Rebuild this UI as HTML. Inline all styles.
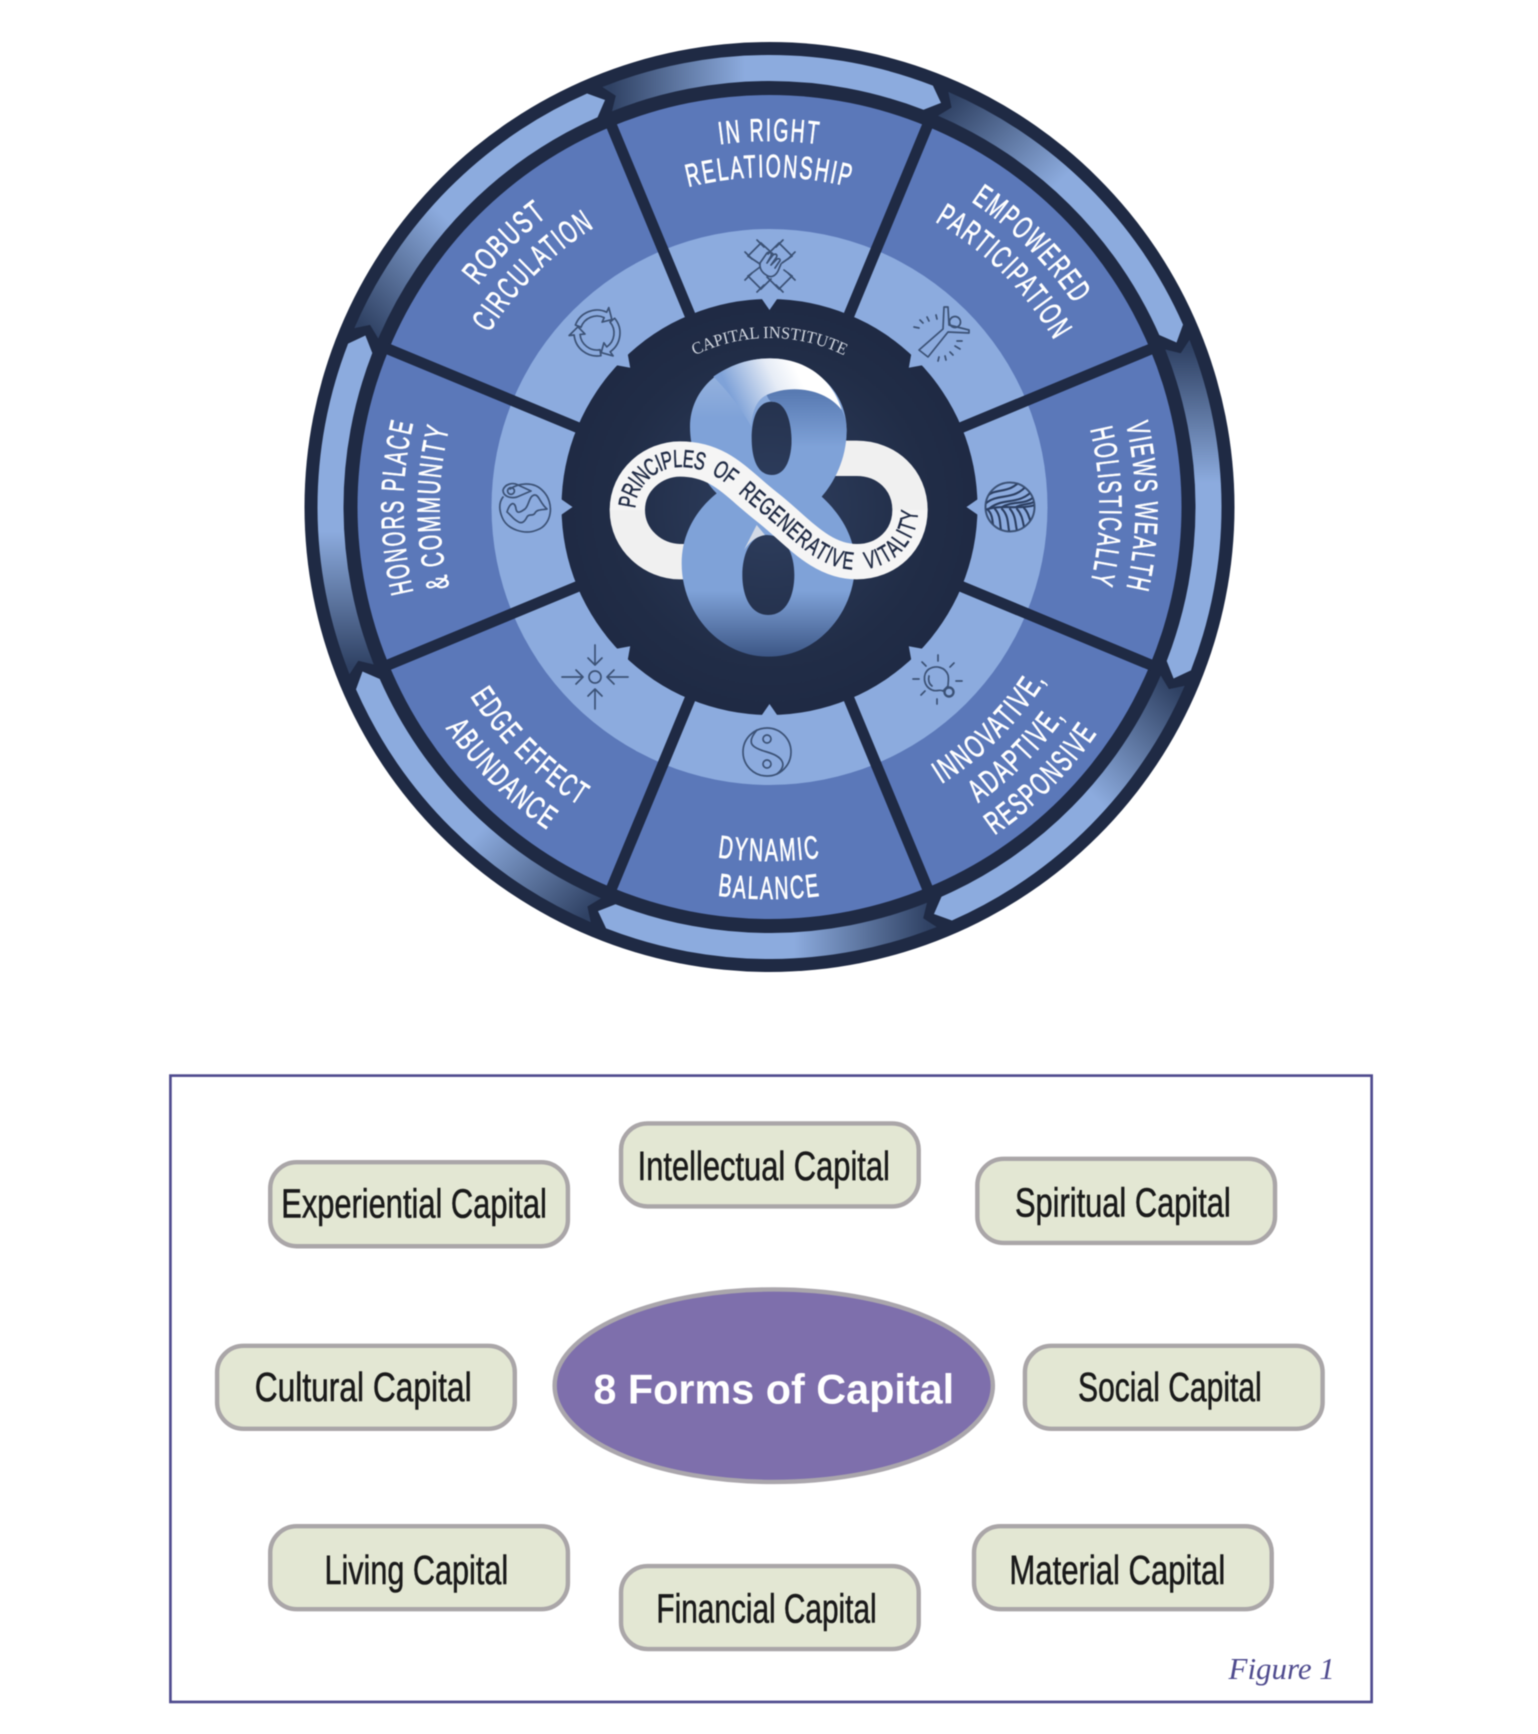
<!DOCTYPE html>
<html><head><meta charset="utf-8"><style>
html,body{margin:0;padding:0;background:#fff;width:1538px;height:1734px;overflow:hidden}
svg{display:block;filter:blur(.5px)}
.l{font-family:"Liberation Sans Narrow","Liberation Sans",sans-serif;font-size:32px;letter-spacing:3px;fill:#fff;stroke:#fff;stroke-width:.7;text-anchor:middle}
.p{font-family:"Liberation Sans",sans-serif;font-size:37px;fill:#1a1a1a;stroke:#1a1a1a;stroke-width:.5;text-anchor:start}
.ic{fill:none;stroke:#3c5276;stroke-width:1.7;stroke-linecap:round;stroke-linejoin:round}
</style></head><body>
<svg width="1538" height="1734" viewBox="0 0 1538 1734" xmlns="http://www.w3.org/2000/svg">
<defs>
<linearGradient id="arr" gradientUnits="userSpaceOnUse" x1="610" y1="0" x2="745" y2="0"><stop offset="0" stop-color="#2f4163"/><stop offset="1" stop-color="#8cabde"/></linearGradient>
<radialGradient id="ctr" gradientUnits="userSpaceOnUse" cx="769.5" cy="507" r="208"><stop offset="0" stop-color="#2f3f5f"/><stop offset=".75" stop-color="#212d47"/><stop offset="1" stop-color="#1f2a44"/></radialGradient>
<linearGradient id="eight" gradientUnits="userSpaceOnUse" x1="0" y1="235" x2="0" y2="1130"><stop offset="0" stop-color="#9db8e0"/><stop offset=".2" stop-color="#7fa2d8"/><stop offset=".78" stop-color="#7fa2d8"/><stop offset="1" stop-color="#3c5685"/></linearGradient>
<linearGradient id="shine" gradientUnits="userSpaceOnUse" x1="570" y1="340" x2="760" y2="250"><stop offset="0" stop-color="#7fa2d8"/><stop offset=".65" stop-color="#e6ecf6"/><stop offset="1" stop-color="#ffffff"/></linearGradient>
<linearGradient id="fold" gradientUnits="userSpaceOnUse" x1="0" y1="335" x2="0" y2="500"><stop offset="0" stop-color="#587ab2"/><stop offset="1" stop-color="#7fa2d8"/></linearGradient>
<path id="o363" d="M534.2 226.6A366 366 0 0 1 1004.8 226.6"/>
<path id="o323" d="M557.4 254.2A330 330 0 0 1 981.6 254.2"/>
<path id="i326" d="M559.9 756.7A326 326 0 0 0 979.1 756.7"/>
<path id="i362" d="M536.8 784.3A362 362 0 0 0 1002.2 784.3"/>
<path id="i398" d="M513.7 811.9A398 398 0 0 0 1025.3 811.9"/>
<path id="i354" d="M541.9 778.2A354 354 0 0 0 997.1 778.2"/>
<path id="i392" d="M517.5 807.3A392 392 0 0 0 1021.5 807.3"/>
<path id="capi" d="M660.9 377.5A169 169 0 0 1 878.1 377.5"/>
<path id="front" d="M262 690C262 600 340 537 420 537C540 537 590 610 680 680C770 750 840 845 950 845C1040 845 1110 780 1110 690"/>
<clipPath id="gc"><circle cx="1010" cy="507" r="24"/></clipPath>
<path id="arrow" d="M602.4 87A452 452 0 0 1 932.9 85.6L941 102.9L923.5 109.8A426 426 0 0 0 612 111.2L615.8 95.8Z" fill="url(#arr)"/>
<polygon id="notch" points="760.5,297 778.5,297 769.5,310" fill="#8cabde"/>
<line id="div" x1="769.5" y1="320" x2="769.5" y2="92" stroke="#1f2a44" stroke-width="11" transform="rotate(22.5 769.5 507)"/>
<path id="rec" d="M-21.6 -7.9A23 23 0 0 1 9.7 -20.8L11.8 -25.4L14.9 -13.4L5.1 -10.9L7.2 -15.4A17 17 0 0 0 -16 -5.8Z"/>
</defs>
<rect width="1538" height="1734" fill="#fff"/>

<!-- wheel -->
<circle cx="769.5" cy="507" r="465" fill="#1f2a44"/>
<use href="#arrow"/>
<use href="#arrow" transform="rotate(45 769.5 507)"/>
<use href="#arrow" transform="rotate(90 769.5 507)"/>
<use href="#arrow" transform="rotate(135 769.5 507)"/>
<use href="#arrow" transform="rotate(180 769.5 507)"/>
<use href="#arrow" transform="rotate(225 769.5 507)"/>
<use href="#arrow" transform="rotate(270 769.5 507)"/>
<use href="#arrow" transform="rotate(315 769.5 507)"/>
<circle cx="769.5" cy="507" r="412" fill="#5b78b9"/>
<circle cx="769.5" cy="507" r="278" fill="#8cabde"/>
<use href="#div"/>
<use href="#div" transform="rotate(45 769.5 507)"/>
<use href="#div" transform="rotate(90 769.5 507)"/>
<use href="#div" transform="rotate(135 769.5 507)"/>
<use href="#div" transform="rotate(180 769.5 507)"/>
<use href="#div" transform="rotate(225 769.5 507)"/>
<use href="#div" transform="rotate(270 769.5 507)"/>
<use href="#div" transform="rotate(315 769.5 507)"/>
<circle cx="769.5" cy="507" r="208" fill="url(#ctr)"/>
<use href="#notch"/>
<use href="#notch" transform="rotate(45 769.5 507)"/>
<use href="#notch" transform="rotate(90 769.5 507)"/>
<use href="#notch" transform="rotate(135 769.5 507)"/>
<use href="#notch" transform="rotate(180 769.5 507)"/>
<use href="#notch" transform="rotate(225 769.5 507)"/>
<use href="#notch" transform="rotate(270 769.5 507)"/>
<use href="#notch" transform="rotate(315 769.5 507)"/>

<!-- segment labels -->
<g class="labels">
<text class="l"><textPath href="#o363" startOffset="50%" textLength="100" lengthAdjust="spacingAndGlyphs">IN RIGHT</textPath></text>
<text class="l"><textPath href="#o323" startOffset="50%" textLength="164" lengthAdjust="spacingAndGlyphs">RELATIONSHIP</textPath></text>
<g transform="rotate(45 769.5 507)">
<text class="l"><textPath href="#o363" startOffset="50%" textLength="148" lengthAdjust="spacingAndGlyphs">EMPOWERED</textPath></text>
<text class="l"><textPath href="#o323" startOffset="50%" textLength="172" lengthAdjust="spacingAndGlyphs">PARTICIPATION</textPath></text>
</g>
<g transform="rotate(90 769.5 507)">
<text class="l"><textPath href="#o363" startOffset="50%" textLength="167" lengthAdjust="spacingAndGlyphs">VIEWS WEALTH</textPath></text>
<text class="l"><textPath href="#o323" startOffset="50%" textLength="157" lengthAdjust="spacingAndGlyphs">HOLISTICALLY</textPath></text>
</g>
<g transform="rotate(-90 769.5 507)">
<text class="l"><textPath href="#o363" startOffset="50%" textLength="172" lengthAdjust="spacingAndGlyphs">HONORS PLACE</textPath></text>
<text class="l"><textPath href="#o323" startOffset="50%" textLength="162" lengthAdjust="spacingAndGlyphs">&amp; COMMUNITY</textPath></text>
</g>
<g transform="rotate(-45 769.5 507)">
<text class="l"><textPath href="#o363" startOffset="50%" textLength="100" lengthAdjust="spacingAndGlyphs">ROBUST</textPath></text>
<text class="l"><textPath href="#o323" startOffset="50%" textLength="152" lengthAdjust="spacingAndGlyphs">CIRCULATION</textPath></text>
</g>
<text class="l"><textPath href="#i354" startOffset="50%" textLength="104" lengthAdjust="spacingAndGlyphs">DYNAMIC</textPath></text>
<text class="l"><textPath href="#i392" startOffset="50%" textLength="104" lengthAdjust="spacingAndGlyphs">BALANCE</textPath></text>
<g transform="rotate(-45 769.5 507)">
<text class="l"><textPath href="#i326" startOffset="50%" textLength="150" lengthAdjust="spacingAndGlyphs">INNOVATIVE,</textPath></text>
<text class="l"><textPath href="#i362" startOffset="50%" textLength="124" lengthAdjust="spacingAndGlyphs">ADAPTIVE,</textPath></text>
<text class="l"><textPath href="#i398" startOffset="50%" textLength="147" lengthAdjust="spacingAndGlyphs">RESPONSIVE</textPath></text>
</g>
<g transform="rotate(45 769.5 507)">
<text class="l"><textPath href="#i354" startOffset="50%" textLength="157" lengthAdjust="spacingAndGlyphs">EDGE EFFECT</textPath></text>
<text class="l"><textPath href="#i392" startOffset="50%" textLength="146" lengthAdjust="spacingAndGlyphs">ABUNDANCE</textPath></text>
</g>
</g>

<!-- icons -->
<g class="ic">
<!-- hands -->
<g transform="translate(770,266)">
<path d="M-22 -10L-9 -23M9 -23L22 -10M-22 10L-9 23M9 23L22 10"/>
<path d="M-25 -14L-18 -7M-13 -26L-6 -19M13 -26L6 -19M25 -14L18 -7M-25 14L-18 7M-13 26L-6 19M13 26L6 19M25 14L18 7"/>
<path d="M-9 -23L3 -12M22 -10L12 -3M-22 10L-10 1M9 23L-3 11M-22 -10L-10 -2M-9 23L1 13M22 10L14 4M9 -23L-2 -12"/>
<path d="M-10 -3L-3 -13C0 -15 2 -13 1 -10L-3 -3M-3 -3L3 -11C6 -13 8 -11 6 -8L1 -1M1 -1L7 -7C10 -8 11 -6 9 -4L5 2M-10 -3C-11 4 -6 8 -2 10C2 12 6 9 8 5L11 -2"/>
</g>
<!-- person -->
<g transform="translate(941,335)">
<path d="M-22 15L2 -6L3 -28L7 -28L8 -10L28 -5L28 -2L7 -3L-13 22Z"/>
<circle cx="14" cy="-13" r="5.5"/>
<path d="M-27 -8L-22 -7M-21 -15L-18 -12M-14 -18L-12 -14M-5 -20L-4 -16M-3 26L-2 22M5 25L4 21M12 20L9 17M19 14L14 11M21 6L16 6"/>
</g>
<!-- wave globe -->
<circle cx="1010" cy="507" r="24.5" stroke-width="2"/>
<g clip-path="url(#gc)" stroke="#2c3f62" stroke-width="2.1">
<path d="M985 510C1000 504 1020 510 1035 505"/>
<path d="M985 492C996 480 1006 488 1016 474M985 498C996 486 1008 496 1022 479M985 504C998 492 1014 502 1028 484M990 508C1004 497 1020 506 1034 489M1002 507C1014 500 1026 506 1036 495M1016 507C1024 503 1030 505 1036 501"/>
<path d="M988 510C995 517 991 528 996 536M995 509C1003 518 998 530 1004 538M1002 509C1011 518 1006 530 1012 538M1010 509C1018 518 1014 530 1020 537M1017 509C1025 518 1022 528 1027 534M1024 508C1030 514 1029 522 1034 528"/>
</g>
<!-- bulb -->
<g transform="translate(937,680)">
<path d="M-5 10C-14 6 -15 -6 -8 -11C-1 -15 8 -13 11 -5C12 -1 11 3 11 6L6 11C3 9 -1 12 -5 10Z"/>
<path d="M-8 -4C-9 0 -8 4 -5 6"/>
<circle cx="12" cy="12" r="4.5" stroke-width="2.4"/>
<path d="M1 -25V-19M-15 -18L-11 -14M17 -17L13 -13M-24 -1H-18M19 1H25M-16 15L-12 11M0 19V24"/>
</g>
<!-- yin yang -->
<g transform="translate(767,752)">
<circle r="24"/>
<path d="M-10 -22C-22 -8 -14 -4 0 0C14 4 22 12 10 22"/>
<circle cy="-13" r="4"/><circle cy="12" r="4"/>
</g>
<!-- converging arrows -->
<g transform="translate(595,677)">
<circle r="6"/>
<path d="M0 -32V-13M-7 -19L0 -12L7 -19M0 32V13M-7 19L0 12L7 19M-33 0H-13M-19 -7L-12 0L-19 7M33 0H13M19 -7L12 0L19 7"/>
</g>
<!-- place globe -->
<g transform="translate(525,507)">
<path d="M-15 -18C-8 -23 8 -27 18 -16C30 -4 27 18 12 23C0 28 -18 23 -23 10C-27 0 -25 -6 -22 -10"/>
<path d="M-22 -17C-20 -23 -12 -25 -7 -22L6 -16L-8 -10C-15 -8 -22 -11 -22 -17Z"/>
<circle cx="-14" cy="-16" r="3.4"/>
<path d="M-18 5C-15 -5 -10 -6 -9 2C-8 8 -3 4 0 2C4 -1 4 -12 10 -12C14 -12 15 -4 22 2C18 3 12 2 10 6C8 10 4 6 2 10C0 14 -3 18 -8 14C-12 12 -14 8 -18 5Z"/>
</g>
<!-- recycle -->
<g transform="translate(597,333)">
<use href="#rec"/>
<use href="#rec" transform="rotate(120)"/>
<use href="#rec" transform="rotate(240)"/>
</g>
</g>

<!-- capital institute -->
<text font-family="'Liberation Serif',serif" font-size="17" fill="#d4d9e2" text-anchor="middle"><textPath href="#capi" startOffset="50%" textLength="155" lengthAdjust="spacingAndGlyphs">CAPITAL INSTITUTE</textPath></text>

<!-- central mark, drawn in 3x crop coordinates -->
<g transform="translate(540,280) scale(.33333)">
<path d="M420 845C340 845 262 780 262 690M1110 690C1110 600 1040 535 950 535L850 535M420 845L520 845" fill="none" stroke="#f0f0f0" stroke-width="106"/>
<path fill-rule="evenodd" fill="url(#eight)" d="M530 640C470 580 450 500 450 440C450 320 560 235 690 235C800 235 920 320 920 450C920 540 880 610 845 650C900 700 945 770 945 850C945 1000 830 1130 685 1130C540 1130 425 1000 425 850C425 750 480 680 530 640ZM695 365C650 365 635 420 635 475C635 530 650 585 695 585C740 585 755 530 755 475C755 420 740 365 695 365ZM680 765C630 765 607 825 607 885C607 945 630 1005 685 1005C740 1005 763 945 763 885C763 825 740 765 680 765Z"/>
<path fill="url(#shine)" d="M520 290C570 255 630 235 690 235C790 235 875 290 905 390C860 340 760 310 680 345C650 358 636 395 634 440C600 380 560 330 520 290Z"/>
<path fill="url(#fold)" d="M680 345C760 310 860 330 905 390C915 410 920 430 920 450C920 470 918 490 912 510C860 520 800 520 755 500C757 430 740 365 695 365C690 365 684 355 680 345Z"/>
<path d="M612 810L650 735L675 765C645 770 625 790 612 810Z" fill="#d3dae6"/>
<use href="#front" fill="none" stroke="#f5f5f5" stroke-width="106"/>
<text font-family="'Liberation Sans Narrow','Liberation Sans',sans-serif" font-size="74" word-spacing="22" letter-spacing="3" fill="#1f2a44" stroke="#1f2a44" stroke-width="1.5" dominant-baseline="central"><textPath href="#front" startOffset="8" textLength="1115" lengthAdjust="spacingAndGlyphs">PRINCIPLES OF REGENERATIVE VITALITY</textPath></text>
</g>

<!-- lower figure -->
<g transform="scale(1.1066)">
<rect x="154" y="972" width="1085.5" height="566" fill="#fff" stroke="#4f4b8e" stroke-width="2.4"/>
<g transform="translate(-.8,-.8)">
<g fill="#e3e7d3" stroke="#aaa6a8" stroke-width="4">
<rect x="245" y="1051" width="269" height="76" rx="24"/>
<rect x="562" y="1016" width="269" height="75" rx="24"/>
<rect x="884" y="1048" width="269" height="76" rx="24"/>
<rect x="197" y="1217" width="269" height="75" rx="24"/>
<rect x="927" y="1217" width="269" height="75" rx="24"/>
<rect x="245" y="1380" width="269" height="75" rx="24"/>
<rect x="562" y="1416" width="269" height="75" rx="24"/>
<rect x="881" y="1380" width="269" height="75" rx="24"/>
</g>
<ellipse cx="700" cy="1253" rx="198" ry="87" fill="#7e6fac" stroke="#aaa6ac" stroke-width="4"/>
<text class="p" x="255" y="1101" textLength="240" lengthAdjust="spacingAndGlyphs">Experiential Capital</text>
<text class="p" x="577" y="1067" textLength="228" lengthAdjust="spacingAndGlyphs">Intellectual Capital</text>
<text class="p" x="918" y="1100" textLength="195" lengthAdjust="spacingAndGlyphs">Spiritual Capital</text>
<text class="p" x="231" y="1267" textLength="196" lengthAdjust="spacingAndGlyphs">Cultural Capital</text>
<text class="p" x="975" y="1267" textLength="166" lengthAdjust="spacingAndGlyphs">Social Capital</text>
<text class="p" x="294" y="1432" textLength="166" lengthAdjust="spacingAndGlyphs">Living Capital</text>
<text class="p" x="594" y="1467" textLength="199" lengthAdjust="spacingAndGlyphs">Financial Capital</text>
<text class="p" x="913" y="1432" textLength="195" lengthAdjust="spacingAndGlyphs">Material Capital</text>
<text x="537" y="1269" font-family="'Liberation Sans',sans-serif" font-weight="bold" font-size="38" fill="#fff" textLength="326" lengthAdjust="spacingAndGlyphs">8 Forms of Capital</text>
<text x="1111" y="1518" font-family="'Liberation Serif',serif" font-style="italic" font-size="28" fill="#4f4b8e" textLength="96" lengthAdjust="spacing">Figure 1</text>
</g>
</g>
</svg>
</body></html>
